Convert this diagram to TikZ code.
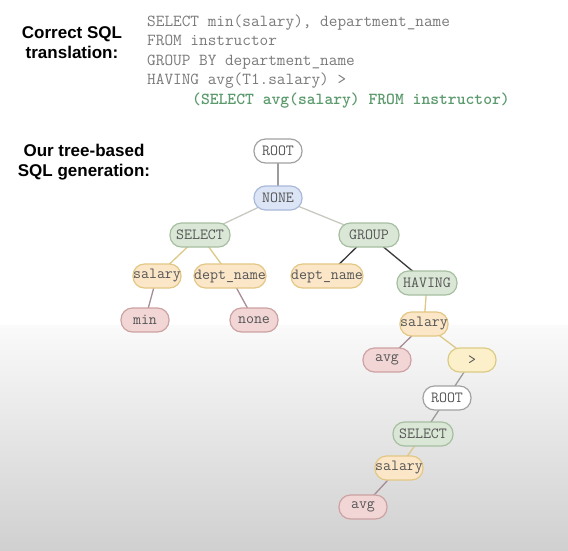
\documentclass[tikz,border=0pt]{standalone}
\usepackage{fontspec}
\newfontfamily\labelfont{Liberation Sans}
\pgfdeclarelayer{paper}
\pgfdeclarelayer{links}
\pgfsetlayers{paper,links,main}

\definecolor{bggray}{HTML}{D0D0D0}
\definecolor{bgstart}{HTML}{FAFAFA}
\definecolor{codegray}{HTML}{7A7A7A}
\definecolor{codegreen}{HTML}{5A9A6C}
\definecolor{txt}{HTML}{555555}
% node palettes
\definecolor{rootfill}{HTML}{FFFFFF}\definecolor{rootdraw}{HTML}{A2A2A2}
\definecolor{nonefill}{HTML}{DCE5F6}\definecolor{nonedraw}{HTML}{A9B9D9}
\definecolor{kwfill}{HTML}{DAE7D6}\definecolor{kwdraw}{HTML}{A6BFA1}
\definecolor{colfill}{HTML}{FBE6C8}\definecolor{coldraw}{HTML}{E3C785}
\definecolor{aggfill}{HTML}{F2D5D5}\definecolor{aggdraw}{HTML}{CDA2A2}
\definecolor{opfill}{HTML}{FBF0C9}\definecolor{opdraw}{HTML}{DCCB86}
% link colours
\definecolor{lgray}{HTML}{9C9C9C}
\definecolor{lpale}{HTML}{C9C9C2}
\definecolor{lyellow}{HTML}{DCC887}
\definecolor{lmauve}{HTML}{A58C95}
\definecolor{ldark}{HTML}{3A3A3A}

\tikzset{
  treenode/.style={draw, line width=1.2pt, rounded corners=11.5pt,
    minimum height=24pt, minimum width=48pt, inner xsep=0pt, inner ysep=0pt,
    font=\ttfamily\fontsize{15.5}{15.5}\selectfont, text=txt},
  rootnode/.style={treenode, fill=rootfill, draw=rootdraw},
  nonenode/.style={treenode, fill=nonefill, draw=nonedraw},
  kwnode/.style={treenode, fill=kwfill, draw=kwdraw, minimum width=60pt},
  colnode/.style={treenode, fill=colfill, draw=coldraw},
  aggnode/.style={treenode, fill=aggfill, draw=aggdraw},
  opnode/.style={treenode, fill=opfill, draw=opdraw},
  link/.style={line width=1.3pt},
  codeline/.style={anchor=base west, inner sep=0pt,
    font=\ttfamily\fontsize{16.8}{16.8}\selectfont, text=codegray},
  sidelabel/.style={align=center, inner sep=0pt,
    font=\labelfont\bfseries\fontsize{17}{20}\selectfont},
}

\begin{document}
\begin{tikzpicture}[x=1pt,y=-1pt]
\useasboundingbox (0,0) rectangle (568,550);
\begin{pgfonlayer}{paper}
  \fill[white] (0,0) rectangle (568,326);
  % the lower part of the page fades to gray
  \shade[top color=bgstart, bottom color=bggray] (0,325) rectangle (568,550);
\end{pgfonlayer}

% headings on the left
\node[sidelabel] (head1) at (72,43) {Correct SQL\\translation:};
\node[sidelabel] (head2) at (84,162) {Our tree-based\\SQL generation:};

% query text
\node[codeline] (q1) at (147,26) {SELECT min(salary), department\_name};
\node[codeline] (q2) at (147,45.5) {FROM instructor};
\node[codeline] (q3) at (147,65) {GROUP BY department\_name};
\node[codeline] (q4) at (147,84.5) {HAVING avg(T1.salary) >};
\node[codeline, text=codegreen, font=\ttfamily\bfseries\fontsize{16.8}{16.8}\selectfont]
  (q5) at (192,104) {(SELECT avg(salary) FROM instructor)};

% tree
\node[rootnode] (root)  at (278,151) {ROOT};
\node[nonenode] (nnone) at (278,198) {NONE};
\node[kwnode]   (sel)   at (200,235) {SELECT};
\node[kwnode]   (grp)   at (369,235) {GROUP};
\node[colnode]  (sal)   at (157,276) {salary};
\node[colnode]  (dnA)   at (230,276) {dept\_name};
\node[colnode]  (dnB)   at (327,276) {dept\_name};
\node[kwnode]   (hav)   at (427,283) {HAVING};
\node[aggnode]  (mn)    at (145,320) {min};
\node[aggnode]  (nn)    at (254,320) {none};
\node[colnode]  (salB)  at (424,324) {salary};
\node[aggnode]  (avgA)  at (387,360) {avg};
\node[opnode]   (gt)    at (472,360) {>};
\node[rootnode] (rootB) at (447,398) {ROOT};
\node[kwnode]   (selB)  at (423,434) {SELECT};
\node[colnode]  (salC)  at (399,468) {salary};
\node[aggnode]  (avgB)  at (363,507) {avg};

\begin{pgfonlayer}{links}
  \draw[link, lgray]   (root.center) -- (nnone.center);
  \draw[link, lpale]   (nnone.center) -- (sel.center);
  \draw[link, lpale]   (nnone.center) -- (grp.center);
  \draw[link, lyellow] (sel.center) -- (sal.center);
  \draw[link, lyellow] (sel.center) -- (dnA.center);
  \draw[link, lmauve]  (sal.center) -- (mn.center);
  \draw[link, lmauve]  (dnA.center) -- (nn.center);
  \draw[link, ldark]   (grp.center) -- (dnB.center);
  \draw[link, ldark]   (grp.center) -- (hav.center);
  \draw[link, lyellow] (hav.center) -- (salB.center);
  \draw[link, lmauve]  (salB.center) -- (avgA.center);
  \draw[link, lyellow] (salB.center) -- (gt.center);
  \draw[link, lgray]   (gt.center) -- (rootB.center);
  \draw[link, lgray]   (rootB.center) -- (selB.center);
  \draw[link, lyellow] (selB.center) -- (salC.center);
  \draw[link, lmauve]  (salC.center) -- (avgB.center);
\end{pgfonlayer}
\end{tikzpicture}
\end{document}
